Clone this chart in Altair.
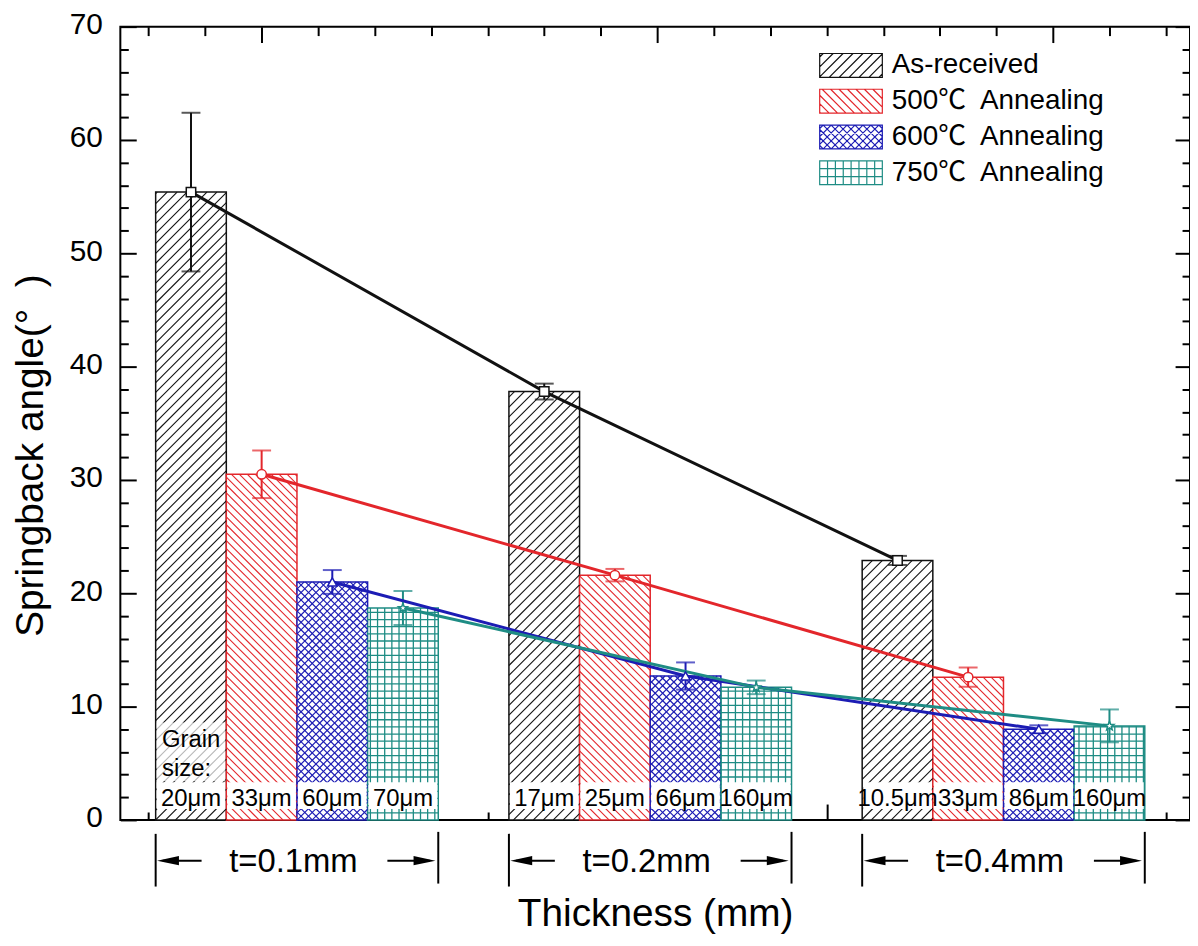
import math
import altair as alt
import pandas as pd

# ---------------- data ----------------
SERIES = ["As-received", "500℃\u00a0 Annealing", "600℃\u00a0 Annealing", "750℃\u00a0 Annealing"]
THICKNESS_LABELS = ["t=0.1mm", "t=0.2mm", "t=0.4mm"]

AS_RECEIVED = [55.4, 37.8, 22.9]
AS_RECEIVED_ERR = [7.0, 0.7, 0.4]
ANNEAL_500 = [30.5, 21.6, 12.6]
ANNEAL_500_ERR = [2.1, 0.55, 0.85]
ANNEAL_600 = [21.0, 12.7, 8.0]
ANNEAL_600_ERR = [1.05, 1.2, 0.35]
ANNEAL_750 = [18.7, 11.7, 8.3]
ANNEAL_750_ERR = [1.5, 0.6, 1.45]

GRAIN_AS = ["20μm", "17μm", "10.5μm"]
GRAIN_500 = ["33μm", "25μm", "33μm"]
GRAIN_600 = ["60μm", "66μm", "86μm"]
GRAIN_750 = ["70μm", "160μm", "160μm"]
GRAIN_TITLE = ["Grain", "size:"]

Y_TITLE = "Springback angle(°\u00a0 )"
X_TITLE = "Thickness (mm)"
Y_TICKS = [0, 10, 20, 30, 40, 50, 60, 70]
Y_MINOR = [2, 4, 6, 8, 12, 14, 16, 18, 22, 24, 26, 28, 32, 34, 36, 38, 42, 44, 46, 48,
           52, 54, 56, 58, 62, 64, 66, 68]
X_TICKS = [-0.1, 0.7, 1.5, 2.3, 3.1, 3.9, 4.7, 5.5, 6.3, 7.1, 7.9, 8.7, 9.5, 10.3,
           11.1, 11.9, 12.7, 13.5, 14.3]
X_MAJOR_BOTTOM = [3.9, 9.5]
X_MAJOR_TOP = [1.5, 7.1, 12.7]

VALUES = [AS_RECEIVED, ANNEAL_500, ANNEAL_600, ANNEAL_750]
ERRS = [AS_RECEIVED_ERR, ANNEAL_500_ERR, ANNEAL_600_ERR, ANNEAL_750_ERR]
GRAINS = [GRAIN_AS, GRAIN_500, GRAIN_600, GRAIN_750]

rows = []
for g in range(3):
    for s in range(4):
        rows.append(dict(group=g, s=s, series=SERIES[s], value=VALUES[s][g],
                         err=ERRS[s][g], grain=GRAINS[s][g]))
df = pd.DataFrame(rows)
gdf = pd.DataFrame({"group": [0, 1, 2], "label": THICKNESS_LABELS})

# ---------------- geometry / style ----------------
W, H = 1076, 798
XMIN, XMAX = -0.5, 14.64
YMAX = 70
KX = W / (XMAX - XMIN)   # px per bar slot
KY = H / YMAX            # px per degree
FONT = "Liberation Sans, Arial, Noto Sans CJK SC, DejaVu Sans"
COLORS = ["#111111", "#e3262b", "#1c1cb4", "#1e8c84"]

xs = alt.Scale(domain=[XMIN, XMAX], nice=False, zero=False)
ys = alt.Scale(domain=[0, YMAX], nice=False, zero=False)
# series index drives the drawing colours (kept apart from the legend's scale)
stroke_enc = alt.Stroke("s:O", scale=alt.Scale(domain=[0, 1, 2, 3], range=COLORS), legend=None)
fill_enc = alt.Fill("s:O", scale=alt.Scale(domain=[0, 1, 2, 3], range=COLORS), legend=None)


def X(field, axis=None):
    return alt.X(field, type="quantitative", scale=xs, axis=axis)


def Y(field, axis=None):
    return alt.Y(field, type="quantitative", scale=ys, axis=axis)


base = alt.Chart(df).transform_calculate(
    slot="datum.group * 5 + datum.s"
).transform_calculate(
    slot_end="datum.slot + 1",
    mid="datum.slot + 0.5",
    zero="0",
    lo="datum.value - datum.err",
    hi="datum.value + datum.err",
    bx0="datum.slot + 0.015",
    bx1="datum.slot + 0.985",
)

# ---------------- axes ----------------
x_main_axis = alt.Axis(orient="bottom", labels=False, ticks=False, domain=False, grid=False,
                       title=X_TITLE, titleFont=FONT, titleFontSize=39, titleFontWeight="normal",
                       titleColor="black", titleY=106, titleBaseline="alphabetic")
y_main_axis = alt.Axis(orient="left", values=Y_TICKS, ticks=False, tickSize=0, domain=False,
                       grid=False, labelFont=FONT, labelFontSize=30, labelColor="black",
                       labelPadding=18, labelOffset=-2,
                       title=Y_TITLE, titleFont=FONT, titleFontSize=39, titleFontWeight="normal",
                       titleColor="black", titleAngle=270, titleX=-78, titleY=431,
                       titleAlign="center", titleBaseline="alphabetic")


def tick_axis(orient, values, size):
    return alt.Axis(orient=orient, values=values, tickSize=size, offset=-size, labels=False,
                    domain=False, grid=False, ticks=True, tickWidth=2, tickColor="black",
                    title=None)


def carrier(xaxis, yaxis):
    return base.mark_point(opacity=0).encode(x=X("mid:Q", xaxis), y=Y("value:Q", yaxis))


x_minor_bottom = [v for v in X_TICKS if v not in X_MAJOR_BOTTOM]
x_minor_top = [v for v in X_TICKS if v not in X_MAJOR_TOP]
carriers = [
    carrier(tick_axis("bottom", X_MAJOR_BOTTOM, 16), tick_axis("left", Y_TICKS, 16)),
    carrier(tick_axis("bottom", x_minor_bottom, 8), tick_axis("left", Y_MINOR, 8)),
    carrier(tick_axis("top", X_MAJOR_TOP, 16), tick_axis("right", Y_TICKS, 15)),
    carrier(tick_axis("top", x_minor_top, 9), tick_axis("right", Y_MINOR, 8)),
]

# ---------------- bars ----------------
bars = base.mark_rect(fill="white", strokeWidth=1.5).encode(
    x=X("slot:Q", x_main_axis), x2="slot_end:Q",
    y=Y("value:Q", y_main_axis), y2="zero:Q",
    stroke=stroke_enc,
)


def only(series_list):
    return base.transform_filter(alt.FieldOneOfPredicate(field="series", oneOf=series_list))


def prep(series_list):
    return only(series_list).transform_calculate(
        X0=f"datum.slot * {KX}", X1=f"(datum.slot + 1) * {KX}", HH=f"datum.value * {KY}"
    )


def hatch_slash(series_list, S, width):
    return prep(series_list).transform_calculate(
        ks=f"sequence(ceil((datum.X0 - datum.HH) / {S}), floor(datum.X1 / {S}) + 1)"
    ).transform_flatten(["ks"]).transform_calculate(
        c=f"datum.ks * {S}"
    ).transform_calculate(
        u0="max(0, datum.X0 - datum.c)", u1="min(datum.HH, datum.X1 - datum.c)"
    ).transform_filter("datum.u1 > datum.u0 + 0.3").transform_calculate(
        xa=f"(datum.c + datum.u0) / {KX}", ya=f"datum.u0 / {KY}",
        xb=f"(datum.c + datum.u1) / {KX}", yb=f"datum.u1 / {KY}"
    ).mark_rule(strokeWidth=width).encode(
        x=X("xa:Q"), y=Y("ya:Q"), x2="xb:Q", y2="yb:Q", stroke=stroke_enc
    )


def hatch_back(series_list, S, width):
    return prep(series_list).transform_calculate(
        ks=f"sequence(ceil(datum.X0 / {S}), floor((datum.X1 + datum.HH) / {S}) + 1)"
    ).transform_flatten(["ks"]).transform_calculate(
        c=f"datum.ks * {S}"
    ).transform_calculate(
        u0="max(0, datum.c - datum.X1)", u1="min(datum.HH, datum.c - datum.X0)"
    ).transform_filter("datum.u1 > datum.u0 + 0.3").transform_calculate(
        xa=f"(datum.c - datum.u0) / {KX}", ya=f"datum.u0 / {KY}",
        xb=f"(datum.c - datum.u1) / {KX}", yb=f"datum.u1 / {KY}"
    ).mark_rule(strokeWidth=width).encode(
        x=X("xa:Q"), y=Y("ya:Q"), x2="xb:Q", y2="yb:Q", stroke=stroke_enc
    )


def hatch_vert(series_list, S, width):
    return prep(series_list).transform_calculate(
        ks=f"sequence(floor(datum.X0 / {S}) + 1, ceil(datum.X1 / {S}))"
    ).transform_flatten(["ks"]).transform_calculate(
        xa=f"datum.ks * {S} / {KX}"
    ).mark_rule(strokeWidth=width).encode(
        x=X("xa:Q"), y=Y("zero:Q"), y2="value:Q", stroke=stroke_enc
    )


def hatch_horiz(series_list, S, width):
    return prep(series_list).transform_calculate(
        ks=f"sequence(1, ceil(datum.HH / {S}))"
    ).transform_flatten(["ks"]).transform_calculate(
        ya=f"datum.ks * {S} / {KY}"
    ).mark_rule(strokeWidth=width).encode(
        x=X("slot:Q"), x2="slot_end:Q", y=Y("ya:Q"), stroke=stroke_enc
    )


hatches = [
    hatch_slash([SERIES[0]], 10, 1.1),
    hatch_back([SERIES[1]], 8, 1.1),
    hatch_slash([SERIES[2]], 7.5, 1.2),
    hatch_back([SERIES[2]], 7.5, 1.2),
    hatch_vert([SERIES[3]], 7.2, 1.3),
    hatch_horiz([SERIES[3]], 7.2, 1.3),
]

# ---------------- grain size labels ----------------
boxes = base.mark_rect(fill="white").encode(
    x=X("bx0:Q"), x2="bx1:Q", y=alt.value(760), y2=alt.value(787)
)
first = base.transform_filter("datum.group == 0 && datum.s == 0")
title_box = first.mark_rect(fill="white", opacity=0.7).encode(
    x=X("bx0:Q"), x2="bx1:Q", y=alt.value(700), y2=alt.value(759)
)
grain_text = base.mark_text(fontSize=24, font=FONT, color="black", baseline="alphabetic",
                            align="center").encode(
    x=X("mid:Q"), y=alt.value(784), text="grain:N"
)
grain_title = first.transform_calculate(tx="datum.slot + 0.09").mark_text(
    fontSize=24, font=FONT, color="black", baseline="alphabetic", align="left", lineHeight=29
).encode(x=X("tx:Q"), y=alt.value(725), text=alt.value(GRAIN_TITLE))

# ---------------- error bars, lines, markers ----------------
err_line = base.mark_rule(strokeWidth=2).encode(
    x=X("mid:Q"), y=Y("lo:Q"), y2="hi:Q", stroke=stroke_enc
)
cap_lo = base.mark_tick(orient="horizontal", size=19, thickness=2).encode(
    x=X("mid:Q"), y=Y("lo:Q"), fill=fill_enc
)
cap_hi = base.mark_tick(orient="horizontal", size=19, thickness=2).encode(
    x=X("mid:Q"), y=Y("hi:Q"), fill=fill_enc
)
lines = base.mark_line(strokeWidth=3).encode(
    x=X("mid:Q"), y=Y("value:Q"), stroke=stroke_enc, order="group:Q"
)

star_pts = []
for i in range(10):
    r = 1.0 if i % 2 == 0 else 0.42
    a = -math.pi / 2 + i * math.pi / 5
    star_pts.append(f"{r * math.cos(a):.3f},{r * math.sin(a):.3f}")
STAR = "M" + "L".join(star_pts) + "Z"
markers = base.transform_calculate(
    shp=f"['square', 'circle', 'triangle-up', '{STAR}'][datum.s]"
).mark_point(filled=True, fill="white", size=90, strokeWidth=1.5, opacity=1).encode(
    x=X("mid:Q"), y=Y("value:Q"), stroke=stroke_enc, shape=alt.Shape("shp:N", scale=None)
)

# ---------------- legend (hatched symbols) ----------------
# symbol paths are drawn in pixels inside a 63 x 24 box, then scaled to the
# unit the legend symbol uses (half of sqrt(size) = 12 px)
LEG_HW, LEG_HH = 31.5, 12.0
R = 12.0


def fmt(v):
    return f"{v / R:.3f}"


def seg(x1, y1, x2, y2):
    return f"M{fmt(x1)},{fmt(y1)}L{fmt(x2)},{fmt(y2)}"


def box_path():
    a, b = LEG_HW, LEG_HH
    return f"M{fmt(-a)},{fmt(-b)}L{fmt(a)},{fmt(-b)}L{fmt(a)},{fmt(b)}L{fmt(-a)},{fmt(b)}Z"


def slash_path(s):
    a, b = LEG_HW, LEG_HH
    out = []
    for k in range(math.ceil((-a - b) / s), math.floor((a + b) / s) + 1):
        c = k * s
        xa, xb = max(-a, c - b), min(a, c + b)
        if xb - xa > 0.05:
            out.append(seg(xa, c - xa, xb, c - xb))
    return "".join(out)


def back_path(s):
    a, b = LEG_HW, LEG_HH
    out = []
    for k in range(math.ceil((-a - b) / s), math.floor((a + b) / s) + 1):
        c = k * s
        xa, xb = max(-a, c - b), min(a, c + b)
        if xb - xa > 0.05:
            out.append(seg(xa, xa - c, xb, xb - c))
    return "".join(out)


def grid_path(s):
    a, b = LEG_HW, LEG_HH
    out = []
    x = -a + s
    while x < a - 0.5:
        out.append(seg(x, -b, x, b))
        x += s
    y = -b + s
    while y < b - 0.5:
        out.append(seg(-a, y, a, y))
        y += s
    return "".join(out)


PATHS = [
    box_path() + slash_path(10),
    box_path() + back_path(8.5),
    box_path() + slash_path(8) + back_path(8),
    box_path() + grid_path(7.9),
]
SYM_SIZE = (2 * R) ** 2

leg = alt.Legend(orient="none", legendX=721, legendY=25, title=None, labelFont=FONT,
                 labelFontSize=28, labelColor="black", labelOffset=27, labelLimit=500,
                 symbolSize=SYM_SIZE, symbolStrokeWidth=1.2, symbolOpacity=1,
                 rowPadding=6, padding=0)
legend_layer = base.transform_filter("datum.group == 0").mark_point(
    opacity=0, size=SYM_SIZE, strokeWidth=1.2
).encode(
    x=X("mid:Q"), y=Y("value:Q"),
    color=alt.Color("series:N", scale=alt.Scale(domain=SERIES, range=COLORS), legend=leg),
    shape=alt.Shape("series:N", scale=alt.Scale(domain=SERIES, range=PATHS), legend=leg),
)

# ---------------- thickness brackets under the axis ----------------
gbase = alt.Chart(gdf).transform_calculate(
    left="datum.group * 5", right="datum.group * 5 + 4", center="datum.group * 5 + 1.95",
    la0="datum.group * 5 + 0.1", la1="datum.group * 5 + 0.65",
    ra0="datum.group * 5 + 3.28", ra1="datum.group * 5 + 3.88",
    lh="datum.group * 5 + 0.175", rh="datum.group * 5 + 3.805",
)
ARROW_L = "M-1,0L1,-0.42L1,0.42Z"
ARROW_R = "M1,0L-1,-0.42L-1,0.42Z"
brackets = [
    gbase.mark_rule(strokeWidth=2, color="black").encode(
        x=X("left:Q"), y=alt.value(812), y2=alt.value(865)),
    gbase.mark_rule(strokeWidth=2, color="black").encode(
        x=X("right:Q"), y=alt.value(810), y2=alt.value(862)),
    gbase.mark_rule(strokeWidth=2, color="black").encode(
        x=X("la0:Q"), x2="la1:Q", y=alt.value(839)),
    gbase.mark_rule(strokeWidth=2, color="black").encode(
        x=X("ra0:Q"), x2="ra1:Q", y=alt.value(839)),
    gbase.mark_point(filled=True, color="black", size=484, opacity=1, shape=ARROW_L).encode(
        x=X("lh:Q"), y=alt.value(839)),
    gbase.mark_point(filled=True, color="black", size=484, opacity=1, shape=ARROW_R).encode(
        x=X("rh:Q"), y=alt.value(839)),
    gbase.mark_text(fontSize=33, font=FONT, color="black", baseline="alphabetic",
                    align="center").encode(x=X("center:Q"), y=alt.value(850), text="label:N"),
]

chart = alt.layer(
    bars, *hatches, title_box, boxes, grain_title, grain_text,
    err_line, cap_lo, cap_hi, lines, markers, legend_layer, *brackets, *carriers
).properties(
    width=W, height=H,
    autosize=alt.AutoSizeParams(type="none"),
    padding={"left": 113, "top": 16, "right": 0, "bottom": 115},
).resolve_axis(
    x="independent", y="independent"
).configure(
    font=FONT
).configure_view(
    stroke="black", strokeWidth=2
)

chart.save("out.html", embed_options={"renderer": "svg", "actions": False})
